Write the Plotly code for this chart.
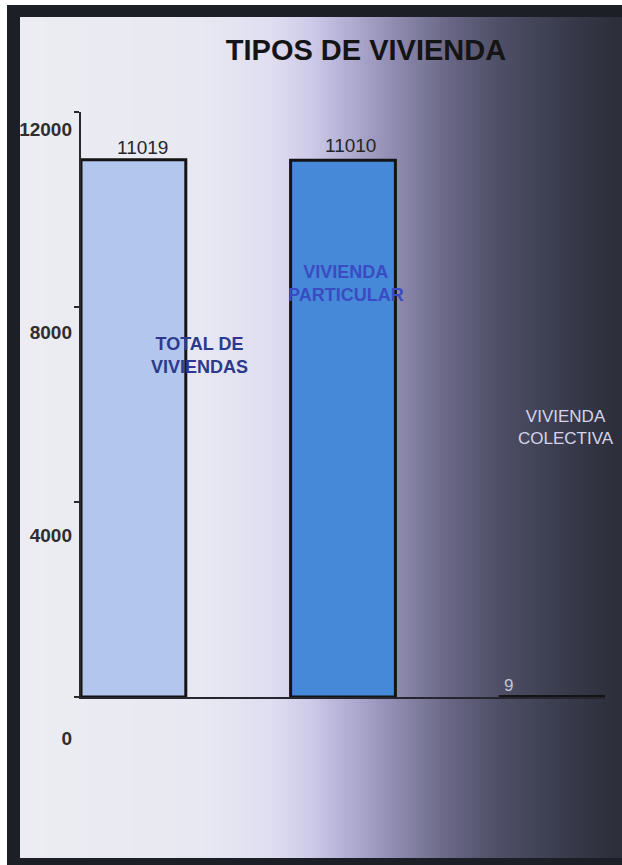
import plotly.graph_objects as go

# ---- data ----
categories = ["TOTAL DE<br>VIVIENDAS", "VIVIENDA<br>PARTICULAR", "VIVIENDA<br>COLECTIVA"]
values = [11019, 11010, 9]
y_ticks = [0, 4000, 8000, 12000]
y_tick_labels = ["0", "4000", "8000", "12000"]
chart_title = "TIPOS DE VIVIENDA"

# ---- styles / positions (kept apart from data) ----
W, H = 622, 865
FONT = "Liberation Sans, Arial, sans-serif"
bar_colors = ["#b3c6ee", "#4689d8", "#3a3c50"]
value_colors = ["#262626", "#262626", "#c4c4d6"]
value_xshift = [9, 7, -44]
value_yshift = [0, 2, 0]
cat_colors = ["#2b3a8c", "#3a4cc4", "#d4d4ec"]
cat_bold = [True, True, False]
cat_size = [18, 18, 17]
cat_y = [7015, 8472, 5538]
cat_xshift = [66, 3, 13]

def px_x(p):
    return p / W

def px_y(p):
    return 1 - p / H

fig = go.Figure()

idx = list(range(len(categories)))
fig.add_trace(go.Bar(
    x=idx, y=values, width=0.5,
    marker=dict(color=bar_colors, line=dict(color="#141414", width=3)),
    cliponaxis=False, showlegend=False, hoverinfo="skip",
    xaxis="x", yaxis="y",
))
# invisible trace to carry the tick-label axis
fig.add_trace(go.Scatter(
    x=[0.5], y=[y_ticks[0]], mode="markers", marker=dict(opacity=0),
    showlegend=False, hoverinfo="skip", xaxis="x2", yaxis="y2",
))

# ---- background gradient and frame ----
stops = [
    (20, (236, 236, 242)), (200, (232, 232, 242)), (270, (224, 222, 240)),
    (310, (206, 202, 232)), (350, (176, 172, 210)), (400, (140, 136, 172)),
    (450, (104, 102, 132)), (500, (78, 78, 102)), (550, (62, 64, 82)),
    (600, (48, 50, 64)), (622, (44, 46, 58)),
]

def col_at(p):
    for (a, ca), (b, cb) in zip(stops[:-1], stops[1:]):
        if a <= p <= b:
            t = (p - a) / (b - a)
            return tuple(round(ca[k] + (cb[k] - ca[k]) * t) for k in range(3))
    return stops[-1][1]

shapes = []
step = 4
p = 20
while p < W:
    c = col_at(p + step / 2)
    shapes.append(dict(type="rect", xref="paper", yref="paper",
                       x0=px_x(p), x1=px_x(min(p + step + 0.6, W)),
                       y0=px_y(858), y1=px_y(16), line=dict(width=0),
                       fillcolor="rgb(%d,%d,%d)" % c, layer="below"))
    p += step
frame = "#1c2026"
shapes += [
    dict(type="rect", xref="paper", yref="paper", x0=px_x(7), x1=1,
         y0=px_y(17), y1=px_y(5), line=dict(width=0), fillcolor=frame, layer="below"),
    dict(type="rect", xref="paper", yref="paper", x0=px_x(7), x1=px_x(20),
         y0=0, y1=px_y(5), line=dict(width=0), fillcolor=frame, layer="below"),
    dict(type="rect", xref="paper", yref="paper", x0=px_x(7), x1=1,
         y0=0, y1=px_y(858), line=dict(width=0), fillcolor=frame, layer="below"),
]

annotations = []
for i, v in enumerate(values):
    annotations.append(dict(
        x=i, y=v, xref="x", yref="y", text=str(v), showarrow=False,
        yanchor="bottom", xanchor="center",
        xshift=value_xshift[i], yshift=value_yshift[i],
        font=dict(family=FONT, size=19 if i < 2 else 17, color=value_colors[i]),
    ))
for i, c in enumerate(categories):
    annotations.append(dict(
        x=i, y=cat_y[i], xref="x", yref="y", text=c, showarrow=False,
        xanchor="center", yanchor="middle", xshift=cat_xshift[i],
        font=dict(family=FONT, size=cat_size[i], color=cat_colors[i],
                  weight="bold" if cat_bold[i] else "normal"),
    ))

fig.update_layout(
    width=W, height=H,
    margin=dict(l=0, r=0, t=0, b=0),
    paper_bgcolor="white", plot_bgcolor="rgba(0,0,0,0)",
    title=dict(text=chart_title, x=366 / W, y=px_y(50), xanchor="center", yanchor="middle",
               font=dict(family=FONT, size=29, color="#141414", weight="bold")),
    xaxis=dict(domain=[px_x(81), px_x(605)], range=[-0.25, len(categories) - 0.75],
               showline=True, linecolor="#262630", linewidth=2, showgrid=False,
               zeroline=False, showticklabels=False, ticks="", anchor="y"),
    yaxis=dict(domain=[px_y(697), px_y(112)], range=[0, 12000],
               showline=True, linecolor="#2a2a2a", linewidth=1.5, showgrid=False,
               zeroline=False, showticklabels=False, ticks="outside", ticklen=5,
               tickcolor="#2a2a2a", tickwidth=1.5, tickvals=y_ticks, anchor="x"),
    xaxis2=dict(domain=[0, 1], range=[0, 1], visible=False, anchor="y2"),
    yaxis2=dict(domain=[0, 1], range=[-2502, 14542], anchor="free", position=px_x(72),
                showline=False, showgrid=False, zeroline=False, ticks="",
                tickvals=y_ticks, ticktext=y_tick_labels,
                tickfont=dict(family=FONT, size=19, color="#2e2e2e", weight="bold"),
                ticklabelstandoff=0),
    shapes=shapes,
    annotations=annotations,
)

fig.write_html("out.html", config={"displayModeBar": False},
               post_script="document.body.style.margin='0';document.body.style.overflow='hidden';")
